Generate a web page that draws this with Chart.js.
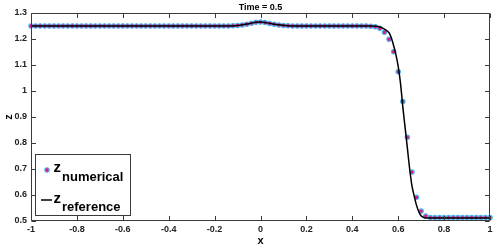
<!DOCTYPE html>
<html>
<head>
<meta charset="utf-8">
<script src="https://cdn.jsdelivr.net/npm/chart.js@4.4.1/dist/chart.umd.min.js"></script>
<style>
html,body{margin:0;padding:0;background:#fff;}
#wrap{width:498px;height:248px;position:relative;}
</style>
</head>
<body>
<div id="wrap"><canvas id="c" width="498" height="248"></canvas></div>
<script>
const chartTitle = 'Time = 0.5';
const xTickVals = [-1,-0.8,-0.6,-0.4,-0.2,0,0.2,0.4,0.6,0.8,1];
const xTickLabels = ['-1','-0.8','-0.6','-0.4','-0.2','0','0.2','0.4','0.6','0.8','1'];
const yTickVals = [0.5,0.6,0.7,0.8,0.9,1,1.1,1.2,1.3];
const yTickLabels = ['0.5','0.6','0.7','0.8','0.9','1','1.1','1.2','1.3'];

const numX = [
-1,-0.98,-0.96,-0.94,-0.92,-0.9,-0.88,-0.86,-0.84,-0.82,
-0.8,-0.78,-0.76,-0.74,-0.72,-0.7,-0.68,-0.66,-0.64,-0.62,
-0.6,-0.58,-0.56,-0.54,-0.52,-0.5,-0.48,-0.46,-0.44,-0.42,
-0.4,-0.38,-0.36,-0.34,-0.32,-0.3,-0.28,-0.26,-0.24,-0.22,
-0.2,-0.18,-0.16,-0.14,-0.12,-0.1,-0.08,-0.06,-0.04,-0.02,
0,0.02,0.04,0.06,0.08,0.1,0.12,0.14,0.16,0.18,
0.2,0.22,0.24,0.26,0.28,0.3,0.32,0.34,0.36,0.38,
0.4,0.42,0.44,0.46,0.48,0.5,0.52,0.54,0.56,0.58,
0.6,0.62,0.64,0.66,0.68,0.7,0.72,0.74,0.76,0.78,
0.8,0.82,0.84,0.86,0.88,0.9,0.92,0.94,0.96,0.98,
1];
const numY = [
1.25,1.25,1.25,1.25,1.25,1.25,1.25,1.25,1.25,1.25,
1.25,1.25,1.25,1.25,1.25,1.25,1.25,1.25,1.25,1.25,
1.25,1.25,1.25,1.25,1.25,1.25,1.25,1.25,1.25,1.25,
1.25,1.25,1.25,1.25,1.25,1.25,1.25,1.25,1.25,1.25,
1.25,1.25,1.25,1.25,1.251,1.252,1.254,1.257,1.261,1.264,
1.265,1.263,1.26,1.257,1.254,1.252,1.251,1.25,1.25,1.25,
1.25,1.25,1.25,1.25,1.25,1.25,1.25,1.25,1.25,1.25,
1.25,1.25,1.25,1.25,1.249,1.247,1.241,1.226,1.199,1.151,
1.074,0.96,0.822,0.688,0.591,0.538,0.519,0.513,0.513,0.513,
0.513,0.513,0.513,0.513,0.513,0.513,0.513,0.513,0.513,0.513,
0.513];

const refX = [-1,-0.5,-0.15,-0.1,-0.05,-0.02,0,0.03,0.06,0.1,0.15,0.2,0.48,0.5,0.52,0.54,0.55,0.56,0.57,0.58,0.59,0.6,0.61,0.62,0.63,0.64,0.65,0.66,0.67,0.68,0.69,0.7,0.71,0.72,0.75,1];
const refY = [1.25,1.25,1.25,1.252,1.259,1.264,1.265,1.262,1.257,1.253,1.25,1.25,1.25,1.249,1.246,1.238,1.232,1.224,1.205,1.175,1.14,1.095,1.03,0.94,0.86,0.78,0.70,0.635,0.595,0.56,0.535,0.52,0.514,0.512,0.512,0.512];

const FONT = '"Liberation Sans", Arial, Helvetica, sans-serif';
const markerFill = '#e3168c';
const markerEdge = '#4db3ea';
const axisColor = '#3a3a3a';

const decor = {
  id: 'decor',
  afterDraw(chart) {
    const ctx = chart.ctx, a = chart.chartArea;
    const xs = chart.scales.x, ys = chart.scales.y;
    ctx.save();
    // box
    ctx.strokeStyle = axisColor;
    ctx.lineWidth = 1;
    const L = Math.round(a.left) + 0.5, R = Math.round(a.right) - 0.5;
    const T = Math.round(a.top) + 0.5, B = Math.round(a.bottom) - 0.5;
    ctx.beginPath();
    ctx.moveTo(L, T); ctx.lineTo(R, T); ctx.lineTo(R, B); ctx.lineTo(L, B); ctx.closePath();
    ctx.stroke();
    // ticks inward
    ctx.beginPath();
    xTickVals.forEach(v => {
      const p = Math.round(xs.getPixelForValue(v)) + 0.5;
      ctx.moveTo(p, B); ctx.lineTo(p, B - 4.5);
      ctx.moveTo(p, T); ctx.lineTo(p, T + 4.5);
    });
    yTickVals.forEach(v => {
      const p = Math.round(ys.getPixelForValue(v)) + 0.5;
      ctx.moveTo(L, p); ctx.lineTo(L + 4.5, p);
      ctx.moveTo(R, p); ctx.lineTo(R - 4.5, p);
    });
    ctx.stroke();
    // title
    ctx.fillStyle = '#000';
    ctx.textAlign = 'center';
    ctx.textBaseline = 'alphabetic';
    ctx.font = 'bold 9px ' + FONT;
    ctx.fillText(chartTitle, (a.left + a.right) / 2, 9.5);
    // axis labels
    ctx.font = 'bold 11px ' + FONT;
    ctx.fillText('x', (a.left + a.right) / 2, 244);
    ctx.save();
    ctx.translate(12, (a.top + a.bottom) / 2);
    ctx.rotate(-Math.PI / 2);
    ctx.fillText('z', 0, 0);
    ctx.restore();
    // legend
    const lx = 35.5, ly = 154.5, lw = 95, lh = 61;
    ctx.fillStyle = '#fff';
    ctx.fillRect(lx, ly, lw, lh);
    ctx.strokeStyle = axisColor;
    ctx.strokeRect(lx, ly, lw, lh);
    ctx.beginPath();
    ctx.arc(47, 170, 2.2, 0, Math.PI * 2);
    ctx.fillStyle = markerFill; ctx.fill();
    ctx.lineWidth = 1.1; ctx.strokeStyle = markerEdge; ctx.stroke();
    ctx.beginPath();
    ctx.moveTo(41, 200); ctx.lineTo(52, 200);
    ctx.strokeStyle = '#000'; ctx.lineWidth = 1.5; ctx.stroke();
    ctx.fillStyle = '#000';
    ctx.textAlign = 'left';
    ctx.font = 'bold 15px ' + FONT;
    ctx.fillText('z', 53.5, 171.5);
    ctx.fillText('z', 53.5, 202.5);
    ctx.font = 'bold 13px ' + FONT;
    ctx.fillText('numerical', 62, 181);
    ctx.fillText('reference', 62, 211);
    ctx.restore();
  }
};

new Chart(document.getElementById('c'), {
  type: 'scatter',
  data: {
    datasets: [
      {
        label: 'z reference',
        data: refX.map((x, i) => ({x, y: refY[i]})),
        showLine: true,
        borderColor: '#000',
        borderWidth: 1.5,
        pointRadius: 0,
        cubicInterpolationMode: 'monotone',
        clip: false
      },
      {
        label: 'z numerical',
        data: numX.map((x, i) => ({x, y: numY[i]})),
        showLine: false,
        pointRadius: 2.2,
        pointBorderWidth: 1.1,
        pointBackgroundColor: markerFill,
        pointBorderColor: markerEdge,
        clip: false
      }
    ]
  },
  options: {
    responsive: false,
    animation: false,
    devicePixelRatio: 1,
    layout: { padding: { left: 0, right: 8, top: 13, bottom: 0 } },
    plugins: { legend: { display: false }, tooltip: { enabled: false }, title: { display: false } },
    scales: {
      x: {
        type: 'linear', min: -1, max: 1,
        afterBuildTicks: s => { s.ticks = xTickVals.map(v => ({value: v})); },
        afterFit: s => { s.height = 27; },
        grid: { display: false, drawTicks: false },
        border: { display: false },
        ticks: {
          padding: 3,
          color: '#222',
          font: { family: FONT, size: 9, weight: 'bold' },
          maxRotation: 0, autoSkip: false,
          callback: (v, i) => xTickLabels[i]
        }
      },
      y: {
        type: 'linear', min: 0.5, max: 1.3,
        afterBuildTicks: s => { s.ticks = yTickVals.map(v => ({value: v})); },
        afterFit: s => { s.width = 31; },
        grid: { display: false, drawTicks: false },
        border: { display: false },
        ticks: {
          padding: 4,
          color: '#222',
          font: { family: FONT, size: 9, weight: 'bold' },
          autoSkip: false,
          callback: (v, i) => yTickLabels[i]
        }
      }
    }
  },
  plugins: [decor]
});
</script>
</body>
</html>
